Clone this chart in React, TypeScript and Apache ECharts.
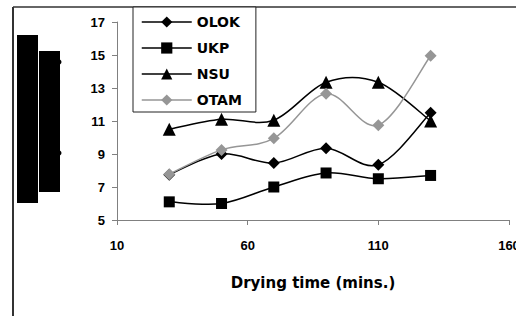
import React, { useEffect, useRef } from "react";
import * as echarts from "echarts";

const xValues = [30, 50, 70, 90, 110, 130];
const olok = [7.75, 9.0, 8.45, 9.35, 8.35, 11.5];
const ukp = [6.1, 6.0, 7.0, 7.85, 7.5, 7.7];
const nsu = [10.5, 11.1, 11.05, 13.35, 13.35, 11.0];
const otam = [7.78, 9.25, 9.95, 12.65, 10.75, 14.95];
const seriesNames = ["OLOK", "UKP", "NSU", "OTAM"];

const pairs = (ys: number[]) => xValues.map((x, i) => [x, ys[i]]);

export default function App() {
  const ref = useRef<HTMLDivElement>(null);
  useEffect(() => {
    if (!ref.current) return;
    const chart = echarts.init(ref.current, undefined, { renderer: "svg" });
    const font = "Liberation Sans, Arial, sans-serif";
    const wide = "DejaVu Sans, sans-serif";
    const markers = (name: string, data: number[], color: string, symbol: string, size: number) => ({
      name,
      type: "line",
      data: pairs(data),
      symbol,
      symbolSize: size,
      showSymbol: true,
      lineStyle: { color, width: 1.5, opacity: 0 },
      itemStyle: { color, borderWidth: 0 },
      z: 3,
    });
    const curve = (data: number[], color: string) => ({
      type: "custom",
      data: pairs(data),
      z: 2,
      silent: true,
      renderItem: (params: any, api: any) => {
        const i = params.dataIndex;
        const n = xValues.length;
        if (i >= n - 1) return null;
        const p = (j: number) => {
          const k = Math.max(0, Math.min(n - 1, j));
          return api.coord([xValues[k], data[k]]);
        };
        const p0 = p(i - 1), p1 = p(i), p2 = p(i + 1), p3 = p(i + 2);
        const t = 1 / 6;
        return {
          type: "bezierCurve",
          shape: {
            x1: p1[0], y1: p1[1],
            cpx1: p1[0] + (p2[0] - p0[0]) * t,
            cpy1: p1[1] + (p2[1] - p0[1]) * t,
            cpx2: p2[0] - (p3[0] - p1[0]) * t,
            cpy2: p2[1] - (p3[1] - p1[1]) * t,
            x2: p2[0], y2: p2[1],
          },
          style: { stroke: color, lineWidth: 1.5, fill: "none" },
        };
      },
    });
    const legendItem = (name: string, color: string) => ({
      name,
      lineStyle: { color, width: 1.5, opacity: 1 },
    });
    chart.setOption({
      animation: false,
      backgroundColor: "#fff",
      grid: { left: 117, right: 7, top: 22, bottom: 96, outerBoundsMode: "none", containLabel: false },
      legend: {
        orient: "vertical",
        left: 133,
        top: 7,
        padding: [8, 14, 5, 8],
        itemGap: 12,
        itemWidth: 50,
        itemHeight: 14,
        borderColor: "#222",
        borderWidth: 1,
        backgroundColor: "#fff",
        lineStyle: { opacity: 1, width: 1.5 },
        data: [
          legendItem("OLOK", "#000"),
          legendItem("UKP", "#000"),
          legendItem("NSU", "#000"),
          legendItem("OTAM", "#969696"),
        ],
        textStyle: { fontFamily: wide, fontWeight: "bold", fontSize: 14, color: "#000" },
      },
      xAxis: {
        type: "value",
        min: 10,
        max: 160,
        interval: 50,
        name: "Drying time (mins.)",
        nameLocation: "middle",
        nameGap: 55,
        nameTextStyle: { fontFamily: wide, fontWeight: "bold", fontSize: 15, color: "#000" },
        axisLine: { lineStyle: { color: "#808080", width: 1 } },
        axisTick: { show: true, length: 5, lineStyle: { color: "#808080" } },
        axisLabel: { margin: 19, fontFamily: font, fontWeight: "bold", fontSize: 13, color: "#000" },
        splitLine: { show: false },
      },
      yAxis: {
        type: "value",
        min: 5,
        max: 17,
        interval: 2,
        axisLine: { show: true, lineStyle: { color: "#808080", width: 1 } },
        axisTick: { show: true, length: 5, lineStyle: { color: "#808080" } },
        axisLabel: { margin: 12, fontFamily: font, fontWeight: "bold", fontSize: 13, color: "#000" },
        splitLine: { show: false },
      },
      graphic: [
        { type: "line", shape: { x1: 13, y1: 7, x2: 516, y2: 7 }, style: { stroke: "#333", lineWidth: 1.5 } },
        { type: "line", shape: { x1: 13, y1: 7, x2: 13, y2: 316 }, style: { stroke: "#333", lineWidth: 2 } },
        { type: "rect", shape: { x: 17, y: 35, width: 21, height: 168 }, style: { fill: "#000" } },
        { type: "rect", shape: { x: 39, y: 51, width: 21, height: 141 }, style: { fill: "#000" } },
        { type: "circle", shape: { cx: 59, cy: 62, r: 2.5 }, style: { fill: "#000" } },
        { type: "circle", shape: { cx: 59, cy: 153, r: 2.5 }, style: { fill: "#000" } },
      ],
      series: [
        markers("OLOK", olok, "#000", "diamond", 12),
        markers("UKP", ukp, "#000", "rect", 11),
        markers("NSU", nsu, "#000", "triangle", 13),
        markers("OTAM", otam, "#969696", "diamond", 12),
        curve(olok, "#000"),
        curve(ukp, "#000"),
        curve(nsu, "#000"),
        curve(otam, "#969696"),
      ],
    });
    return () => chart.dispose();
  }, []);
  return <div ref={ref} style={{ width: 516, height: 316, position: "absolute", left: 0, top: 0 }} />;
}
